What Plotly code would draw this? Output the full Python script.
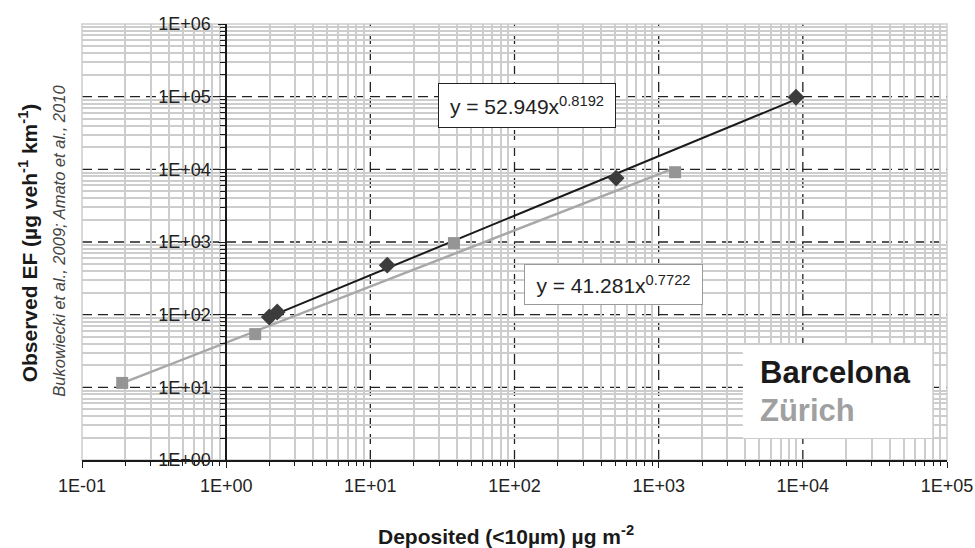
import math
import plotly.graph_objects as go

# ---- data ----
bcn_x = [1.99, 2.26, 13.1, 507, 8970]
bcn_y = [93, 109, 480, 7580, 98000]
zrh_x = [0.19, 1.59, 38, 1300]
zrh_y = [11.5, 54, 966, 9130]

bcn_coef, bcn_exp = 52.949, 0.8192
zrh_coef, zrh_exp = 41.281, 0.7722

x_tick_vals = [0.1, 1, 10, 100, 1000, 10000, 100000]
x_tick_text = ["1E-01", "1E+00", "1E+01", "1E+02", "1E+03", "1E+04", "1E+05"]
y_tick_vals = [1, 10, 100, 1000, 10000, 100000, 1000000]
y_tick_text = ["1E+00", "1E+01", "1E+02", "1E+03", "1E+04", "1E+05", "1E+06"]

XLOG = (-1, 5)
YLOG = (0, 6)

FONT = "Liberation Sans, Arial, sans-serif"
MINOR_GRID = "#cdcdcd"


def minor_vals(lo, hi):
    return [k * 10 ** n for n in range(lo, hi) for k in range(2, 10)]


def trend(xs, c, e):
    ends = [min(xs), max(xs)]
    return ends, [c * v ** e for v in ends]


fig = go.Figure()

tx, ty = trend(zrh_x, zrh_coef, zrh_exp)
fig.add_trace(go.Scatter(x=tx, y=ty, mode="lines",
                         line=dict(color="#a8a8a8", width=2.5),
                         showlegend=False, hoverinfo="skip"))
tx, ty = trend(bcn_x, bcn_coef, bcn_exp)
fig.add_trace(go.Scatter(x=tx, y=ty, mode="lines",
                         line=dict(color="#1a1a1a", width=2),
                         showlegend=False, hoverinfo="skip"))
fig.add_trace(go.Scatter(x=zrh_x, y=zrh_y, mode="markers", name="Zürich",
                         marker=dict(symbol="square", size=12, color="#959595"),
                         showlegend=False))
fig.add_trace(go.Scatter(x=bcn_x, y=bcn_y, mode="markers", name="Barcelona",
                         marker=dict(symbol="diamond", size=13, color="#3c3c3c"),
                         showlegend=False))

shapes = []
DASH = dict(color="#222222", width=1.3, dash="10px,6px")
# dashed major grid lines (interior decades)
for v in x_tick_vals[1:-1]:
    if v == 1:
        continue
    p = (math.log10(v) - XLOG[0]) / (XLOG[1] - XLOG[0])
    shapes.append(dict(type="line", xref="paper", yref="paper", x0=p, x1=p, y0=0, y1=1,
                       line=DASH, layer="between"))
for v in y_tick_vals[1:-1]:
    p = (math.log10(v) - YLOG[0]) / (YLOG[1] - YLOG[0])
    shapes.append(dict(type="line", xref="paper", yref="paper", x0=0, x1=1, y0=p, y1=p,
                       line=DASH, layer="between"))
# gray frame
shapes.append(dict(type="rect", xref="paper", yref="paper", x0=0, x1=1, y0=0, y1=1,
                   line=dict(color=MINOR_GRID, width=1.5), layer="between"))
# legend box
shapes.append(dict(type="rect", xref="paper", yref="paper", x0=0.764, x1=0.983, y0=0.0505, y1=0.2638,
                   line=dict(width=0), fillcolor="white", layer="above"))
fig.update_layout(shapes=shapes)

annotations = [
    dict(text="y = 52.949x<sup>0.8192</sup>", xref="paper", yref="paper", x=0.514, y=0.813,
         showarrow=False, font=dict(family=FONT, size=21, color="#222222"),
         bgcolor="white", bordercolor="#222222", borderwidth=1, width=174, height=41,
         xanchor="center", yanchor="middle"),
    dict(text="y = 41.281x<sup>0.7722</sup>", xref="paper", yref="paper", x=0.615, y=0.403,
         showarrow=False, font=dict(family=FONT, size=21, color="#222222"),
         bgcolor="white", bordercolor="#9a9a9a", borderwidth=1, width=175, height=37,
         xanchor="center", yanchor="middle"),
    dict(text="<b>Barcelona</b>", xref="paper", yref="paper", x=0.7815, y=0.2018,
         xanchor="left", yanchor="middle", showarrow=False,
         font=dict(family=FONT, size=31, color="#1a1a1a")),
    dict(text="<b>Zürich</b>", xref="paper", yref="paper", x=0.7815, y=0.1124,
         xanchor="left", yanchor="middle", showarrow=False,
         font=dict(family=FONT, size=31, color="#a0a0a0")),
    dict(text="<b>Observed EF (µg veh<sup>-1</sup> km<sup>-1</sup>)</b>", xref="paper", yref="paper",
         x=-0.0624, y=0.497, textangle=-90, showarrow=False,
         xanchor="center", yanchor="middle",
         font=dict(family=FONT, size=21, color="#1a1a1a")),
    dict(text="<i>Bukowiecki et al., 2009; Amato et al., 2010</i>", xref="paper", yref="paper",
         x=-0.0266, y=0.503, textangle=-90, showarrow=False,
         xanchor="center", yanchor="middle",
         font=dict(family=FONT, size=16.5, color="#444444")),
    dict(text="<b>Deposited (<10µm) µg m<sup>-2</sup></b>", xref="paper", yref="paper",
         x=0.49, y=-0.171, showarrow=False, xanchor="center", yanchor="middle",
         font=dict(family=FONT, size=21, color="#1a1a1a")),
]
fig.update_layout(annotations=annotations)

fig.update_xaxes(type="log", range=list(XLOG), tickmode="array",
                 tickvals=x_tick_vals, ticktext=x_tick_text,
                 showgrid=False, zeroline=False, automargin=False,
                 showline=True, linecolor="#1a1a1a", linewidth=1.5,
                 ticks="outside", ticklen=6, tickcolor="#1a1a1a", tickwidth=1.3,
                 ticklabelstandoff=3,
                 tickfont=dict(family=FONT, size=18, color="#222222"),
                 minor=dict(tickmode="array", tickvals=minor_vals(-1, 5),
                            ticks="outside", ticklen=4, tickcolor="#1a1a1a", tickwidth=1,
                            showgrid=True, gridcolor=MINOR_GRID, gridwidth=1.5))
fig.update_yaxes(type="log", range=list(YLOG), tickmode="array",
                 tickvals=y_tick_vals, ticktext=y_tick_text,
                 anchor="free", position=(0 - XLOG[0]) / (XLOG[1] - XLOG[0]),
                 showgrid=False, zeroline=False, automargin=False,
                 showline=True, linecolor="#1a1a1a", linewidth=1.5,
                 ticks="outside", ticklen=7, tickcolor="#1a1a1a", tickwidth=1.3,
                 ticklabelstandoff=4,
                 tickfont=dict(family=FONT, size=18, color="#222222"),
                 minor=dict(tickmode="array", tickvals=minor_vals(0, 6),
                            ticks="outside", ticklen=5, tickcolor="#1a1a1a", tickwidth=1,
                            showgrid=True, gridcolor=MINOR_GRID, gridwidth=1.5))

fig.update_layout(width=975, height=548, margin=dict(l=82, r=28, t=24, b=88),
                  paper_bgcolor="white", plot_bgcolor="white",
                  showlegend=False, font=dict(family=FONT))

fig.write_html("out.html")
